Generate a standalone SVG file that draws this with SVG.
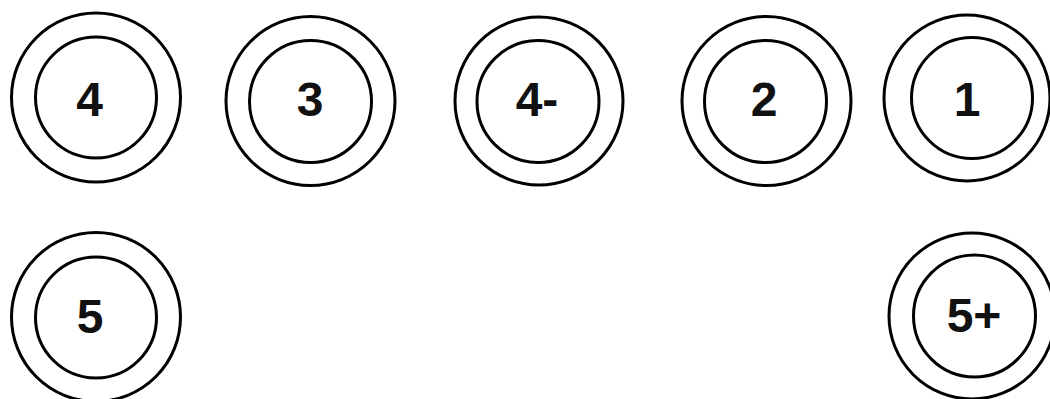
<svg xmlns="http://www.w3.org/2000/svg" width="1050" height="399" viewBox="0 0 1050 399">
<style>
circle { fill: none; stroke: #000; stroke-width: 3; }
text { font-family: "Liberation Sans", Arial, sans-serif; font-weight: bold; font-size: 48px; fill: #111; text-anchor: middle; }
</style>
<rect width="1050" height="399" fill="#fff"/>
<g id="connectors"/>
<g id="node-4">
<circle cx="96" cy="97.5" r="84.5"/>
<circle cx="96" cy="97.5" r="60.5"/>
<text x="89.5" y="116">4</text>
</g>
<g id="node-3">
<circle cx="310.5" cy="101" r="84.5"/>
<circle cx="310.5" cy="101.5" r="61"/>
<text x="310" y="115.5">3</text>
</g>
<g id="node-4minus">
<circle cx="539" cy="101" r="84"/>
<circle cx="538" cy="101.5" r="61"/>
<text x="537" y="116">4-</text>
</g>
<g id="node-2">
<circle cx="766.5" cy="101" r="84.5"/>
<circle cx="765.5" cy="101.5" r="61"/>
<text x="764" y="115.5">2</text>
</g>
<g id="node-1">
<circle cx="967" cy="98" r="83"/>
<circle cx="972" cy="98" r="60.5"/>
<text x="967" y="116">1</text>
</g>
<g id="node-5">
<circle cx="96" cy="317" r="84.5"/>
<circle cx="96" cy="317.5" r="60.5"/>
<text x="90" y="333">5</text>
</g>
<g id="node-5plus">
<circle cx="972" cy="316" r="83"/>
<circle cx="974.5" cy="316" r="61"/>
<text x="974" y="332">5+</text>
</g>
</svg>
